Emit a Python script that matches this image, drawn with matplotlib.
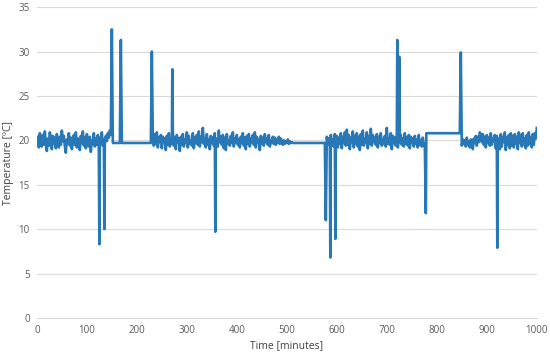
import numpy as np
import matplotlib
matplotlib.use("Agg")
import matplotlib.pyplot as plt

# ---- data (minutes, °C) ----
noise1_start, noise1_step = 0, 2
noise1_vals = [19.6, 20.4, 19.2, 20.8, 19.9, 19.3, 20.6, 19.5, 21.0, 19.7,
               18.8, 20.2, 19.4, 20.9, 20.1, 19.0, 20.5, 19.6, 20.3, 19.1,
               20.7, 19.8, 19.2, 20.4, 19.5, 21.1, 19.9, 20.5, 19.3, 18.6,
               20.1, 19.7, 20.8, 19.4, 20.3, 19.0, 19.8, 20.6, 19.5, 20.9,
               19.2, 20.2, 19.6, 18.9, 20.5, 19.7, 21.0, 19.4, 20.3, 19.1,
               20.7, 19.8, 19.3, 20.4, 18.7, 20.0, 19.6, 20.8, 19.3, 20.2,
               19.5, 20.6, 19.0, 20.3, 19.7, 20.9, 19.4, 20.1, 19.8, 20.5,
               19.9, 20.8, 20.3, 21.1, 20.6]

noise2_start, noise2_step = 232, 2
noise2_vals = [20.1, 19.4, 20.7, 19.6, 20.9, 19.2, 20.3, 19.8, 20.6, 19.1,
               20.4, 19.7, 20.2, 18.9, 20.5, 19.5, 20.8, 19.3, 20.0, 19.6,
               21.0, 19.4, 20.3, 19.0, 20.6, 19.8, 20.2, 18.8, 20.4, 19.5,
               20.7, 19.3, 20.1, 19.7, 20.9, 19.2, 20.5, 19.6, 20.0, 19.4,
               20.8, 19.1, 20.3, 19.7, 20.6, 19.5, 21.0, 19.3, 20.4, 19.8,
               21.4, 19.6, 20.2, 19.2, 20.7, 19.5, 20.1, 19.0, 20.5, 19.7,
               20.3, 19.4, 20.8, 19.6, 20.2, 19.3, 21.1, 19.8, 20.4, 19.5,
               20.6, 19.1, 20.3, 18.9, 20.7, 19.6, 20.0, 19.4, 20.5, 19.7,
               20.9, 19.3, 20.2, 19.8, 20.6, 19.5, 20.1, 19.2, 20.4, 19.7,
               20.8, 19.4, 20.3, 19.0, 20.5, 19.6, 20.7, 19.3, 20.2, 19.8,
               20.6, 19.5, 20.9, 19.2, 20.4, 19.7, 20.1, 18.9, 20.5, 19.6,
               20.3, 19.4, 20.7, 19.8, 20.2, 19.5, 20.6, 19.3, 20.0, 19.7,
               20.4, 19.6, 20.3, 19.5, 20.1, 19.7, 20.4, 19.6, 20.2, 19.8,
               19.5, 20.0, 19.6, 19.9, 19.7, 20.1, 19.6, 19.9, 19.7, 19.8,
               19.7]

noise3_start, noise3_step = 580, 2
noise3_vals = [20.4, 19.5, 20.2, 19.7, 20.6, 19.4, 20.1, 19.3, 20.7, 19.8,
               20.5, 19.2, 20.3, 19.6, 20.8, 19.1, 20.4, 19.7, 20.9, 19.4,
               21.2, 19.5, 20.6, 19.0, 20.3, 19.8, 21.0, 19.2, 20.5, 19.6,
               20.8, 19.3, 20.4, 18.9, 20.7, 19.5, 21.1, 19.4, 20.2, 19.7,
               20.9, 19.1, 20.5, 19.6, 21.3, 19.4, 20.6, 19.8, 20.3, 19.5,
               20.7, 19.2, 20.4, 19.7, 20.8, 19.4, 20.1, 19.6, 20.5, 19.3,
               21.4, 19.6, 20.2, 19.5, 20.8, 19.0, 20.5, 19.7, 20.3, 19.4,
               20.7, 19.2, 20.4, 19.8, 20.6, 19.5, 20.2, 19.3, 20.8, 19.6,
               20.3, 19.4, 20.6, 19.1, 20.4, 19.7, 20.2, 19.3, 20.5, 19.6,
               20.1, 19.2, 20.6, 19.5, 20.0, 19.3, 20.3, 19.4, 19.6]

noise4_start, noise4_step = 850, 2
noise4_vals = [19.4, 20.1, 19.6, 20.0, 19.3, 20.3, 19.5, 19.9, 19.2, 20.1,
               19.6, 19.0, 20.2, 19.7, 20.5, 19.4, 20.4, 19.8, 20.9, 20.6,
               19.8, 20.7, 19.5, 20.4, 19.2, 20.6, 19.7, 20.3, 19.4, 20.8,
               19.5, 20.2, 19.9, 20.6, 19.1, 20.5, 19.6, 20.2, 19.0, 20.7,
               19.3, 20.4, 19.8, 20.9, 18.9, 20.3, 19.5, 20.6, 19.1, 20.8,
               19.4, 20.5, 19.2, 20.7, 19.6, 20.4, 19.0, 20.9, 19.7, 20.6,
               19.3, 20.8, 19.5, 20.2, 19.1, 20.6, 19.4, 20.9, 19.6, 20.3,
               19.2, 20.7, 19.5, 20.8, 20.2]

# flat (constant) stretches and isolated readings
flat_times = [152, 166, 170, 228, 514, 576, 779, 846, 1000]
flat_vals = [19.7, 19.7, 19.7, 19.7, 19.7, 19.7, 20.8, 20.8, 21.4]

spike_times = [125, 135, 150, 168, 230, 271, 357, 578, 587, 597,
               721, 725, 778, 848, 921]
spike_vals = [8.3, 10.0, 32.5, 31.3, 30.0, 28.0, 9.7, 11.0, 6.8, 8.9,
              31.3, 29.4, 11.8, 29.9, 7.9]

x_ticks = [0, 100, 200, 300, 400, 500, 600, 700, 800, 900, 1000]
y_ticks = [0, 5, 10, 15, 20, 25, 30, 35]

# ---- assemble series ----
def grid(start, step, vals):
    return start + step * np.arange(len(vals))

t = np.concatenate([grid(noise1_start, noise1_step, noise1_vals),
                    grid(noise2_start, noise2_step, noise2_vals),
                    grid(noise3_start, noise3_step, noise3_vals),
                    grid(noise4_start, noise4_step, noise4_vals),
                    flat_times, spike_times]).astype(float)
v = np.concatenate([noise1_vals, noise2_vals, noise3_vals, noise4_vals,
                    flat_vals, spike_vals]).astype(float)
order = np.argsort(t, kind="stable")
t, v = t[order], v[order]

# ---- plot ----
plt.rcParams['font.family'] = ['Open Sans', 'DejaVu Sans']
fig = plt.figure(figsize=(5.5, 3.56), dpi=100)
ax = fig.add_axes([0.067, 0.107, 0.909, 0.873])

ax.plot(t, v, color='#2878B8', lw=1.9, zorder=3)

ax.set_xlim(0, 1000)
ax.set_ylim(0, 35)
ax.set_xticks(x_ticks)
ax.set_yticks(y_ticks)
ax.grid(axis='y', color='#D9D9D9', lw=0.8, zorder=0)
ax.grid(axis='x', visible=False)
for s in ['top', 'right', 'left']:
    ax.spines[s].set_visible(False)
ax.spines['bottom'].set_color('#D9D9D9')
ax.spines['bottom'].set_linewidth(0.8)
ax.tick_params(length=0, labelsize=7, colors='#595959', pad=5)
ax.set_xlabel('Time [minutes]', fontsize=7.5, color='#404040', labelpad=3)
ax.set_ylabel('Temperature [ºC]', fontsize=7.5, color='#404040', labelpad=3)

fig.savefig('out.png', dpi=100)
